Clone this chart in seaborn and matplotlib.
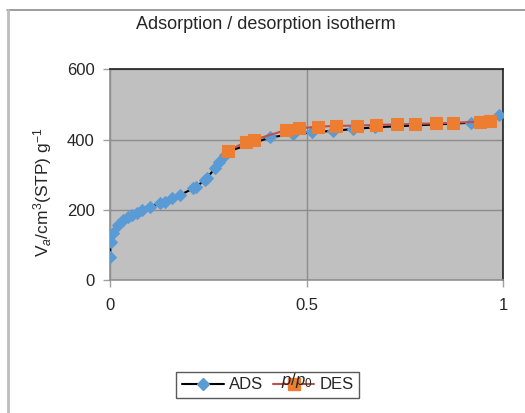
import matplotlib
matplotlib.use("Agg")
import matplotlib.pyplot as plt
from matplotlib.lines import Line2D
import seaborn as sns
import pandas as pd

# ADS (adsorption) branch
ads_x = [0.0, 0.0, 0.002, 0.0085, 0.021, 0.034, 0.047, 0.055, 0.068, 0.081, 0.102,
         0.127, 0.14, 0.157, 0.178, 0.212, 0.220, 0.241, 0.246, 0.267, 0.278, 0.292,
         0.30, 0.407, 0.466, 0.515, 0.568, 0.618, 0.674, 0.919, 0.990]
ads_y = [52, 81, 109, 133, 157, 171, 180, 185, 192, 199, 209,
         218, 223, 233, 242, 261, 266, 285, 290, 318, 337, 356,
         366, 406, 416, 421, 425, 430, 435, 448, 470]
# DES (desorption) branch
des_x = [0.30, 0.347, 0.366, 0.447, 0.48, 0.53, 0.576, 0.629, 0.676, 0.729,
         0.775, 0.830, 0.873, 0.94, 0.966]
des_y = [368, 394, 399, 427, 432, 437, 439, 440, 442, 443,
         445, 446, 448, 451, 454]

title = "Adsorption / desorption isotherm"
y_ticks = [0, 200, 400, 600]
x_ticks = [0, 0.5, 1]
x_tick_labels = ["0", "0.5", "1"]

sns.set_style("white")
plt.rcParams["font.family"] = ["Liberation Sans", "DejaVu Sans"]
plt.rcParams["mathtext.fontset"] = "custom"
plt.rcParams["mathtext.rm"] = "Liberation Sans"
plt.rcParams["mathtext.it"] = "Liberation Sans:italic"

fig = plt.figure(figsize=(5.25, 4.13), dpi=100)
ax = fig.add_axes([0.2095, 0.322, 0.749, 0.510])
ax.set_facecolor("#C0C0C0")

ads_df = pd.DataFrame({"x": ads_x, "y": ads_y})
des_df = pd.DataFrame({"x": des_x, "y": des_y})

blue = "#5B9BD5"
orange = "#ED7D31"
red = "#C0504D"

sns.lineplot(data=ads_df, x="x", y="y", ax=ax, sort=False, color="black", lw=1.5,
             marker="D", markersize=6, markerfacecolor=blue, markeredgecolor=blue,
             zorder=3)
sns.lineplot(data=des_df, x="x", y="y", ax=ax, sort=False, color=red, lw=1.5,
             marker="s", markersize=8, markerfacecolor=orange, markeredgecolor=orange,
             zorder=4)

ax.set_xlim(0, 1)
ax.set_ylim(0, 600)
ax.set_xticks(x_ticks)
ax.set_xticklabels(x_tick_labels, fontsize=12)
ax.set_yticks(y_ticks)
ax.set_yticklabels([str(t) for t in y_ticks], fontsize=12)
ax.grid(True, color="#8C8C8C", lw=1)
ax.set_axisbelow(True)
ax.tick_params(axis="both", which="both", length=5, width=1, color="#A0A0A0",
               direction="out", pad=6, bottom=True, left=True)
ax.tick_params(axis="x", pad=8)
for s in ["top", "right"]:
    ax.spines[s].set_color("#202020")
    ax.spines[s].set_linewidth(1.2)
for s in ["left", "bottom"]:
    ax.spines[s].set_color("#909090")
    ax.spines[s].set_linewidth(1.2)
ax.set_xlabel("")
ax.set_ylabel(r"V$_{\mathit{a}}$/cm$^{3}$(STP) g$^{-1}$", fontsize=12.5)
ax.yaxis.set_label_coords(-0.142, 0.417)

fig.text(0.507, 0.94, title, ha="center", va="center", fontsize=13)

handles = [
    Line2D([], [], color="black", lw=1.5, marker="D", markersize=6,
           markerfacecolor=blue, markeredgecolor=blue),
    Line2D([], [], color=red, lw=1.5, marker="s", markersize=8,
           markerfacecolor=orange, markeredgecolor=orange),
]
leg = fig.legend(handles, ["ADS", "DES"], loc="center", bbox_to_anchor=(0.51, 0.068),
                 ncol=2, frameon=True, fancybox=False, fontsize=12,
                 handlelength=2.5, columnspacing=0.6, handletextpad=0.3,
                 borderpad=0.35)
leg.get_frame().set_edgecolor("#303030")
leg.get_frame().set_linewidth(1)

fig.text(0.566, 0.078, r"$\mathit{p}/\mathit{p}_{0}$", ha="center", va="center",
         fontsize=12, zorder=10)

# figure border lines (top and left)
fig.add_artist(Line2D([7/525, 1.0], [1 - 10/413, 1 - 10/413], color="#8C8C8C", lw=1.2))
fig.add_artist(Line2D([8/525, 8/525], [0, 1 - 10/413], color="#BDBDBD", lw=2))

fig.savefig("out.png", dpi=100)
